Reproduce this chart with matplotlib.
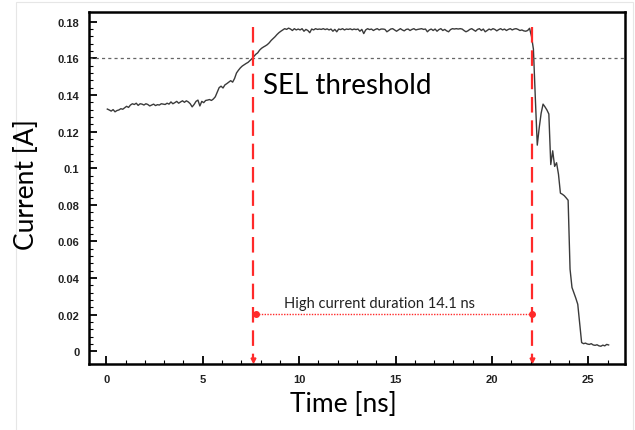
#!/usr/bin/env python3

"""
SEL current trace: current vs time with the threshold and high current duration.
"""

import numpy as np
from matplotlib import pyplot as plt
from matplotlib.patches import Rectangle

plt.rcParams['font.family'] = ['Lato', 'DejaVu Sans']

#### DATA ####
t_start = 0.05
t_step = 0.1
current = [
    0.1323, 0.1318, 0.1312, 0.1320, 0.1308, 0.1315, 0.1318, 0.1325, 0.1322, 0.1330,
    0.1338, 0.1332, 0.1345, 0.1352, 0.1348, 0.1355, 0.1343, 0.1352, 0.1350, 0.1345,
    0.1352, 0.1348, 0.1340, 0.1345, 0.1350, 0.1342, 0.1347, 0.1345, 0.1352, 0.1350,
    0.1348, 0.1355, 0.1350, 0.1362, 0.1352, 0.1358, 0.1365, 0.1355, 0.1362, 0.1368,
    0.1360, 0.1368, 0.1362, 0.1352, 0.1335, 0.1348, 0.1365, 0.1372, 0.1340, 0.1365,
    0.1358, 0.1370, 0.1372, 0.1375, 0.1370, 0.1378, 0.1390, 0.1415, 0.1440, 0.1448,
    0.1438, 0.1455, 0.1462, 0.1470, 0.1478, 0.1470, 0.1490, 0.1520, 0.1535, 0.1548,
    0.1558, 0.1565, 0.1572, 0.1578, 0.1588, 0.1598, 0.1610, 0.1622, 0.1630, 0.1645,
    0.1655, 0.1662, 0.1668, 0.1675, 0.1685, 0.1698, 0.1708, 0.1718, 0.1730, 0.1740,
    0.1748, 0.1755, 0.1762, 0.1758, 0.1765, 0.1760, 0.1752, 0.1762, 0.1755, 0.1760,
    0.1755, 0.1762, 0.1748, 0.1758, 0.1752, 0.1740, 0.1760, 0.1755, 0.1762, 0.1758,
    0.1760, 0.1758, 0.1762, 0.1757, 0.1761, 0.1755, 0.1760, 0.1748, 0.1758, 0.1745,
    0.1760, 0.1757, 0.1762, 0.1755, 0.1760, 0.1758, 0.1761, 0.1756, 0.1760, 0.1757,
    0.1760, 0.1748, 0.1758, 0.1735, 0.1755, 0.1762, 0.1757, 0.1760, 0.1752, 0.1758,
    0.1762, 0.1755, 0.1760, 0.1760, 0.1758, 0.1745, 0.1752, 0.1760, 0.1762, 0.1755,
    0.1748, 0.1755, 0.1762, 0.1755, 0.1750, 0.1758, 0.1760, 0.1752, 0.1758, 0.1762,
    0.1755, 0.1758, 0.1760, 0.1762, 0.1758, 0.1760, 0.1745, 0.1755, 0.1760, 0.1752,
    0.1760, 0.1748, 0.1757, 0.1762, 0.1752, 0.1758, 0.1750, 0.1745, 0.1757, 0.1762,
    0.1760, 0.1762, 0.1760, 0.1762, 0.1760, 0.1752, 0.1745, 0.1750, 0.1758, 0.1762,
    0.1755, 0.1748, 0.1758, 0.1762, 0.1752, 0.1760, 0.1745, 0.1752, 0.1760, 0.1755,
    0.1762, 0.1758, 0.1750, 0.1757, 0.1762, 0.1755, 0.1760, 0.1752, 0.1758, 0.1762,
    0.1755, 0.1760, 0.1762, 0.1758, 0.1752, 0.1755, 0.1750, 0.1748, 0.1752, 0.1764,
    0.1720, 0.1650, 0.1380, 0.1126, 0.1220, 0.1300, 0.1350, 0.1335, 0.1318, 0.1296,
    0.1020, 0.1095, 0.1010, 0.1030, 0.0967, 0.0864, 0.0858, 0.0850, 0.0838, 0.0825,
    0.0449, 0.0349, 0.0320, 0.0290, 0.0257, 0.0150, 0.0048, 0.0042, 0.0045, 0.0040,
    0.0038, 0.0042, 0.0035, 0.0033, 0.0036, 0.0030, 0.0028, 0.0034, 0.0030, 0.0038,
    0.0035,
]
time = t_start + t_step * np.arange(len(current))

threshold = 0.16
sel_start = 7.6
sel_end = 22.1
marker_level = 0.0205
duration_label = 'High current duration 14.1 ns'

red = '#ff2a2a'

#### FIGURE ####
fig = plt.figure(figsize=(6.35, 4.31), dpi=100)
fig.patches.append(Rectangle((16 / 635, -0.01), 617 / 635, 1 - 3 / 431 + 0.01,
                             transform=fig.transFigure, fill=False,
                             edgecolor='#e6e6e6', linewidth=0.8))
ax = fig.add_axes([89 / 635, 66 / 431, 536 / 635, 352 / 431])

ax.plot(time, current, color='#3a3a3a', linewidth=1.0)
ax.axhline(threshold, color='#666666', linewidth=0.9, linestyle=(0, (2.5, 2.5)))

for xv in (sel_start, sel_end):
    ax.plot([xv, xv], [0.177, -0.0035], color=red, linewidth=1.6,
            linestyle=(0, (7, 3.5)))
    ax.plot([xv], [-0.0045], marker='v', color=red, markersize=3.5)

ax.plot([sel_start, sel_end], [marker_level, marker_level], color=red,
        linewidth=1.0, linestyle=(0, (1, 1)))
ax.plot([sel_start + 0.15, sel_end], [marker_level, marker_level], 'o',
        color=red, markersize=4)

ax.text(9.2, 0.0225, duration_label, fontsize=10.5, color='#222222',
        ha='left', va='bottom')
ax.text(8.1, 0.1455, 'SEL threshold', fontsize=20, color='black',
        ha='left', va='center')

ax.set_xlim(-0.9, 26.9)
ax.set_ylim(-0.0069, 0.1853)
ax.set_xticks(np.arange(0, 26, 5))
ax.set_xticks(np.arange(0, 27, 1), minor=True)
ax.set_yticks(np.arange(0, 0.181, 0.02))
ax.set_yticks(np.arange(0, 0.181, 0.004), minor=True)
ax.set_xticklabels(['0', '5', '10', '15', '20', '25'])
ax.set_yticklabels(['0', '0.02', '0.04', '0.06', '0.08', '0.1', '0.12',
                    '0.14', '0.16', '0.18'])

ax.tick_params(which='both', direction='in', color='black')
ax.tick_params(which='major', length=6, width=1.3, pad=7)
ax.tick_params(which='minor', length=3, width=0.8)
for lab in ax.get_xticklabels() + ax.get_yticklabels():
    lab.set_fontfamily(['Liberation Sans'])
    lab.set_fontsize(8)
    lab.set_fontweight('bold')
    lab.set_color('#222222')
for sp in ax.spines.values():
    sp.set_linewidth(1.8)

fig.text(343 / 635, 1 - 405 / 431, 'Time [ns]', fontsize=19,
         ha='center', va='center')
fig.text(27 / 635, 1 - 185 / 431, 'Current [A]', fontsize=19,
         ha='center', va='center', rotation=90)

plt.savefig('out.png', dpi=100)
